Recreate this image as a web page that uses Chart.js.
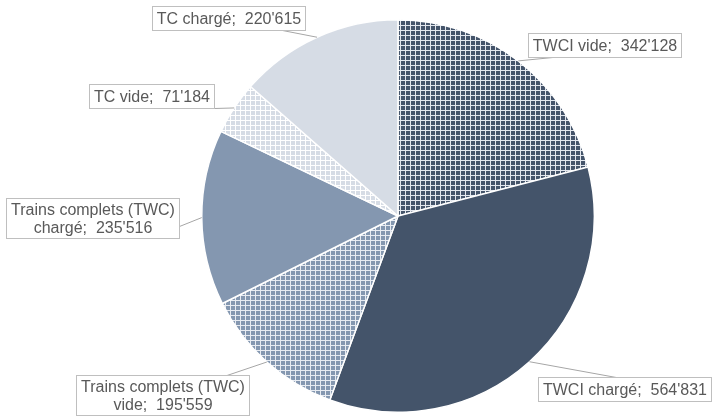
<!DOCTYPE html>
<html>
<head>
<meta charset="utf-8">
<script src="https://cdn.jsdelivr.net/npm/chart.js@4/dist/chart.umd.min.js"></script>
<style>
  html, body { margin: 0; padding: 0; background: #fff; }
  #wrap { width: 713px; height: 418px; }
</style>
</head>
<body>
<div id="wrap"><canvas id="pieChart" width="713" height="418"></canvas></div>
<script>
// --- DATA ---
const categories = ['TWCI vide', 'TWCI chargé', 'Trains complets (TWC) vide', 'Trains complets (TWC) chargé', 'TC vide', 'TC chargé'];
const volumes = [342128, 564831, 195559, 235516, 71184, 220615];

// --- LOOK ---
const DARK = '#44546a', MID = '#8497b0', LIGHT = '#d6dce5';

// label box centres and where the leader line leaves the box (fraction of box w/h)
const labelBoxes = [
    { cx: 604, cy: 44.5, fx: 0.16, fy: 1 },
    { cx: 624, cy: 388.5, fx: 0.45, fy: 0 },
    { cx: 162.5, cy: 395, fx: 0.87, fy: 0 },
    { cx: 92.5, cy: 217.5, fx: 1, fy: 0.7 },
    { cx: 151.5, cy: 96, fx: 1, fy: 1 },
    { cx: 228.5, cy: 17.5, fx: 0.85, fy: 1 }
];

function gridPattern(cell, line) {
    const c = document.createElement('canvas');
    c.width = 5; c.height = 5;
    const g = c.getContext('2d');
    g.fillStyle = line; g.fillRect(0, 0, 5, 5);
    g.fillStyle = cell; g.fillRect(1, 1, 4, 4);
    return document.createElement('canvas').getContext('2d').createPattern(c, 'repeat');
}

const fills = [
    gridPattern(DARK, '#e4e8ee'),
    DARK,
    gridPattern(MID, '#e8ecf2'),
    MID,
    gridPattern(LIGHT, '#ffffff'),
    LIGHT
];

function fmt(n) {
    return String(n).replace(/\B(?=(\d{3})+(?!\d))/g, "'");
}

function wrapText(ctx, text, maxW) {
    const words = text.split(' ');
    const lines = [];
    let cur = '';
    words.forEach(w => {
        const test = cur ? cur + ' ' + w : w;
        if (cur && ctx.measureText(test).width > maxW) { lines.push(cur); cur = w; }
        else cur = test;
    });
    if (cur) lines.push(cur);
    return lines;
}

// --- CALLOUT LABELS ---
const calloutPlugin = {
    id: 'callouts',
    afterDatasetsDraw(chart) {
        const ctx = chart.ctx;
        const meta = chart.getDatasetMeta(0);
        ctx.save();
        ctx.font = '16px "Liberation Sans", Arial, sans-serif';
        meta.data.forEach((arc, i) => {
            const p = arc.getProps(['x', 'y', 'startAngle', 'endAngle', 'outerRadius'], true);
            const mid = (p.startAngle + p.endAngle) / 2;
            const ax = p.x + Math.cos(mid) * p.outerRadius;
            const ay = p.y + Math.sin(mid) * p.outerRadius;

            const text = categories[i] + ';  ' + fmt(volumes[i]);
            const lines = wrapText(ctx, text, 178);
            const tw = Math.max(...lines.map(l => ctx.measureText(l).width));
            const lh = 18;
            const bw = Math.round(tw + 9);
            const bh = lines.length > 1 ? lines.length * lh + 4 : 24;
            const b = labelBoxes[i];
            const bx = Math.round(b.cx - bw / 2) + 0.5;
            const by = Math.round(b.cy - bh / 2) + 0.5;

            // leader line
            ctx.strokeStyle = '#a6a6a6';
            ctx.lineWidth = 1;
            ctx.beginPath();
            ctx.moveTo(ax, ay);
            ctx.lineTo(bx + bw * b.fx, by + bh * b.fy);
            ctx.stroke();

            // box
            ctx.fillStyle = '#ffffff';
            ctx.fillRect(bx, by, bw, bh);
            ctx.strokeStyle = '#bfbfbf';
            ctx.strokeRect(bx, by, bw, bh);

            // text
            ctx.fillStyle = '#595959';
            ctx.textAlign = 'center';
            ctx.textBaseline = 'middle';
            const top = by + bh / 2 - (lines.length - 1) * lh / 2;
            lines.forEach((l, k) => ctx.fillText(l, bx + bw / 2, top + k * lh + 1));
        });
        ctx.restore();
    }
};

new Chart(document.getElementById('pieChart'), {
    type: 'pie',
    data: {
        labels: categories,
        datasets: [{
            data: volumes,
            backgroundColor: fills,
            borderColor: '#ffffff',
            borderWidth: 1.5
        }]
    },
    options: {
        responsive: false,
        animation: false,
        layout: { padding: { left: 201, right: 118, top: 19, bottom: 5 } },
        plugins: { legend: { display: false }, tooltip: { enabled: false } }
    },
    plugins: [calloutPlugin]
});
</script>
</body>
</html>
